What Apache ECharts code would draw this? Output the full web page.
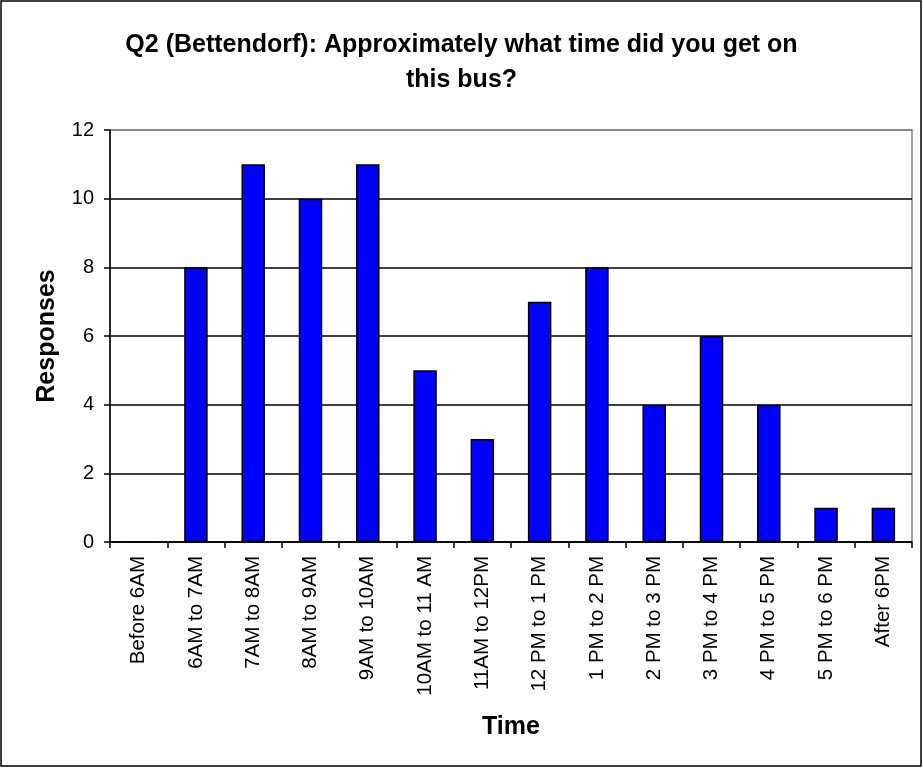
<!DOCTYPE html>
<html><head>
<meta charset="utf-8">
<title>Q2 Bettendorf</title>
<script src="https://cdn.jsdelivr.net/npm/echarts@6/dist/echarts.min.js"></script>
<style>
html,body{margin:0;padding:0;background:#fff;}
#main{width:923px;height:768px;}
</style>
</head>
<body>
<div id="main"></div>
<script type="text/javascript">
var categories = ['Before 6AM', '6AM to 7AM', '7AM to 8AM', '8AM to 9AM', '9AM to 10AM', '10AM to 11 AM',
  '11AM to 12PM', '12 PM to 1 PM', '1 PM to 2 PM', '2 PM to 3 PM', '3 PM to 4 PM', '4 PM to 5 PM',
  '5 PM to 6 PM', 'After 6PM'];
var responses = [0, 8, 11, 10, 11, 5, 3, 7, 8, 4, 6, 4, 1, 1];
var yTicks = [0, 2, 4, 6, 8, 10, 12];

var font = 'Liberation Sans, Arial, sans-serif';
var myChart = echarts.init(document.getElementById('main'));

option = {
    backgroundColor: '#fff',
    animation: false,
    title: {
        text: 'Q2 (Bettendorf): Approximately what time did you get on\nthis bus?',
        left: 'center',
        top: 23,
        textStyle: {
            fontFamily: font,
            fontSize: 25,
            fontWeight: 'bold',
            color: '#000',
            lineHeight: 35
        }
    },
    graphic: [{
        type: 'rect',
        shape: {x: 1, y: 1, width: 920, height: 765},
        style: {fill: 'none', stroke: '#000', lineWidth: 1.5},
        silent: true
    }],
    grid: {
        left: 110, right: 11, top: 130, bottom: 226,
        show: true,
        borderColor: '#808080',
        borderWidth: 1.5
    },
    xAxis: {
        type: 'category',
        data: categories,
        name: 'Time',
        nameLocation: 'middle',
        nameGap: 173,
        nameTextStyle: {fontFamily: font, fontSize: 25, fontWeight: 'bold', color: '#000'},
        axisLine: {lineStyle: {color: '#000', width: 1.5}},
        axisTick: {show: true, length: 6, lineStyle: {color: '#000', width: 1.5}},
        axisLabel: {
            rotate: 90,
            interval: 0,
            margin: 14,
            fontFamily: font,
            fontSize: 20.5,
            color: '#000'
        }
    },
    yAxis: {
        type: 'value',
        min: 0,
        max: yTicks[yTicks.length - 1],
        interval: 2,
        name: 'Responses',
        nameLocation: 'middle',
        nameGap: 50,
        nameRotate: 90,
        nameTextStyle: {fontFamily: font, fontSize: 25, fontWeight: 'bold', color: '#000'},
        axisLine: {show: true, lineStyle: {color: '#000', width: 1.5}},
        axisTick: {show: true, length: 6, lineStyle: {color: '#000', width: 1.5}},
        axisLabel: {margin: 16, fontFamily: font, fontSize: 20, color: '#000'},
        splitLine: {
            show: true,
            lineStyle: {color: ['#000', '#000', '#000', '#000', '#000', '#000', '#808080'], width: 1.5}
        }
    },
    series: [{
        name: 'Responses',
        type: 'bar',
        data: responses,
        barCategoryGap: '59%',
        itemStyle: {color: '#0000ff', borderColor: '#000', borderWidth: 1.5}
    }]
};
myChart.setOption(option);
</script>
</body>
</html>
